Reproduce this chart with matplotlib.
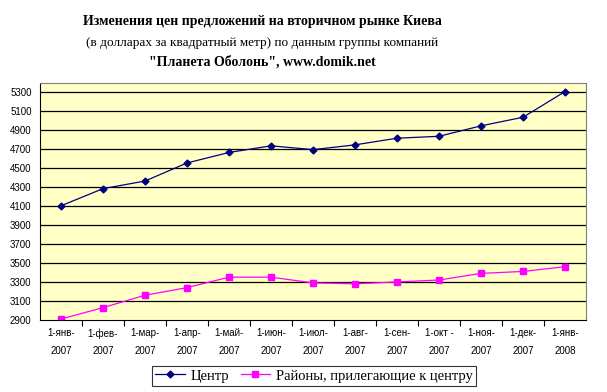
import matplotlib.pyplot as plt

# data
months = ["1-янв-\n2007", "1-фев-\n2007", "1-мар-\n2007", "1-апр-\n2007", "1-май-\n2007",
          "1-июн-\n2007", "1-июл-\n2007", "1-авг-\n2007", "1-сен-\n2007", "1-окт -\n2007",
          "1-ноя-\n2007", "1-дек-\n2007", "1-янв-\n2008"]
center = [4100, 4280, 4360, 4550, 4660, 4730, 4690, 4740, 4810, 4830, 4940, 5030, 5300]
regions = [2910, 3030, 3160, 3240, 3350, 3350, 3290, 3280, 3300, 3320, 3390, 3410, 3460]
yticks = list(range(2900, 5301, 200))

serif = ['Liberation Serif', 'DejaVu Serif']
sans = ['Liberation Sans', 'DejaVu Sans']

fig = plt.figure(figsize=(6.07, 3.92), dpi=100)
ax = fig.add_axes([40/607, 1-320/392, 546/607, 237/392])
ax.set_facecolor('#FFFFC6')

x = list(range(len(months)))
ax.plot(x, center, color='#000080', marker='D', markersize=3.5, linewidth=0.9, label='Центр')
ax.plot(x, regions, color='#FF00FF', marker='s', markersize=4, linewidth=0.9,
        label='Районы, прилегающие к центру')

ax.set_xlim(-0.5, len(months) - 0.5)
ax.set_ylim(2900, 5390)
ax.set_yticks(yticks)
ax.set_yticklabels([str(v) for v in yticks], fontsize=7, family=sans)
for y in yticks[1:]:
    ax.axhline(y, color='black', linewidth=0.9, zorder=1)

ax.set_xticks([i + 0.5 for i in x[:-1]], minor=False)
ax.set_xticklabels([])
ax.set_xticks(x, minor=True)
ax.set_xticklabels(months, minor=True, fontsize=7, family=sans, linespacing=1.9)
ax.tick_params(axis='x', which='minor', length=0, pad=6)
ax.tick_params(axis='x', which='major', length=4, direction='out')
ax.tick_params(axis='y', length=0, pad=6)

for side in ['top', 'right']:
    ax.spines[side].set_color('#808080')
for side in ['left', 'bottom']:
    ax.spines[side].set_color('black')

fig.text(262/607, 1-21/392, 'Изменения цен предложений на вторичном рынке Киева',
         ha='center', va='center', fontsize=10, fontweight='bold', family=serif)
fig.text(262/607, 1-43/392, '(в долларах за квадратный метр) по данным группы компаний',
         ha='center', va='center', fontsize=9.5, family=serif)
fig.text(262/607, 1-62/392, '"Планета Оболонь", www.domik.net',
         ha='center', va='center', fontsize=10, fontweight='bold', family=serif)

leg = fig.legend(loc='center', bbox_to_anchor=(314/607, 1-376/392), ncol=2,
                 prop={'family': serif, 'size': 10.5}, frameon=True, fancybox=False,
                 edgecolor='black', handlelength=2, handletextpad=0.4, columnspacing=0.8,
                 borderpad=0.2)
leg.get_frame().set_linewidth(0.8)

fig.savefig('out.png', dpi=100)
